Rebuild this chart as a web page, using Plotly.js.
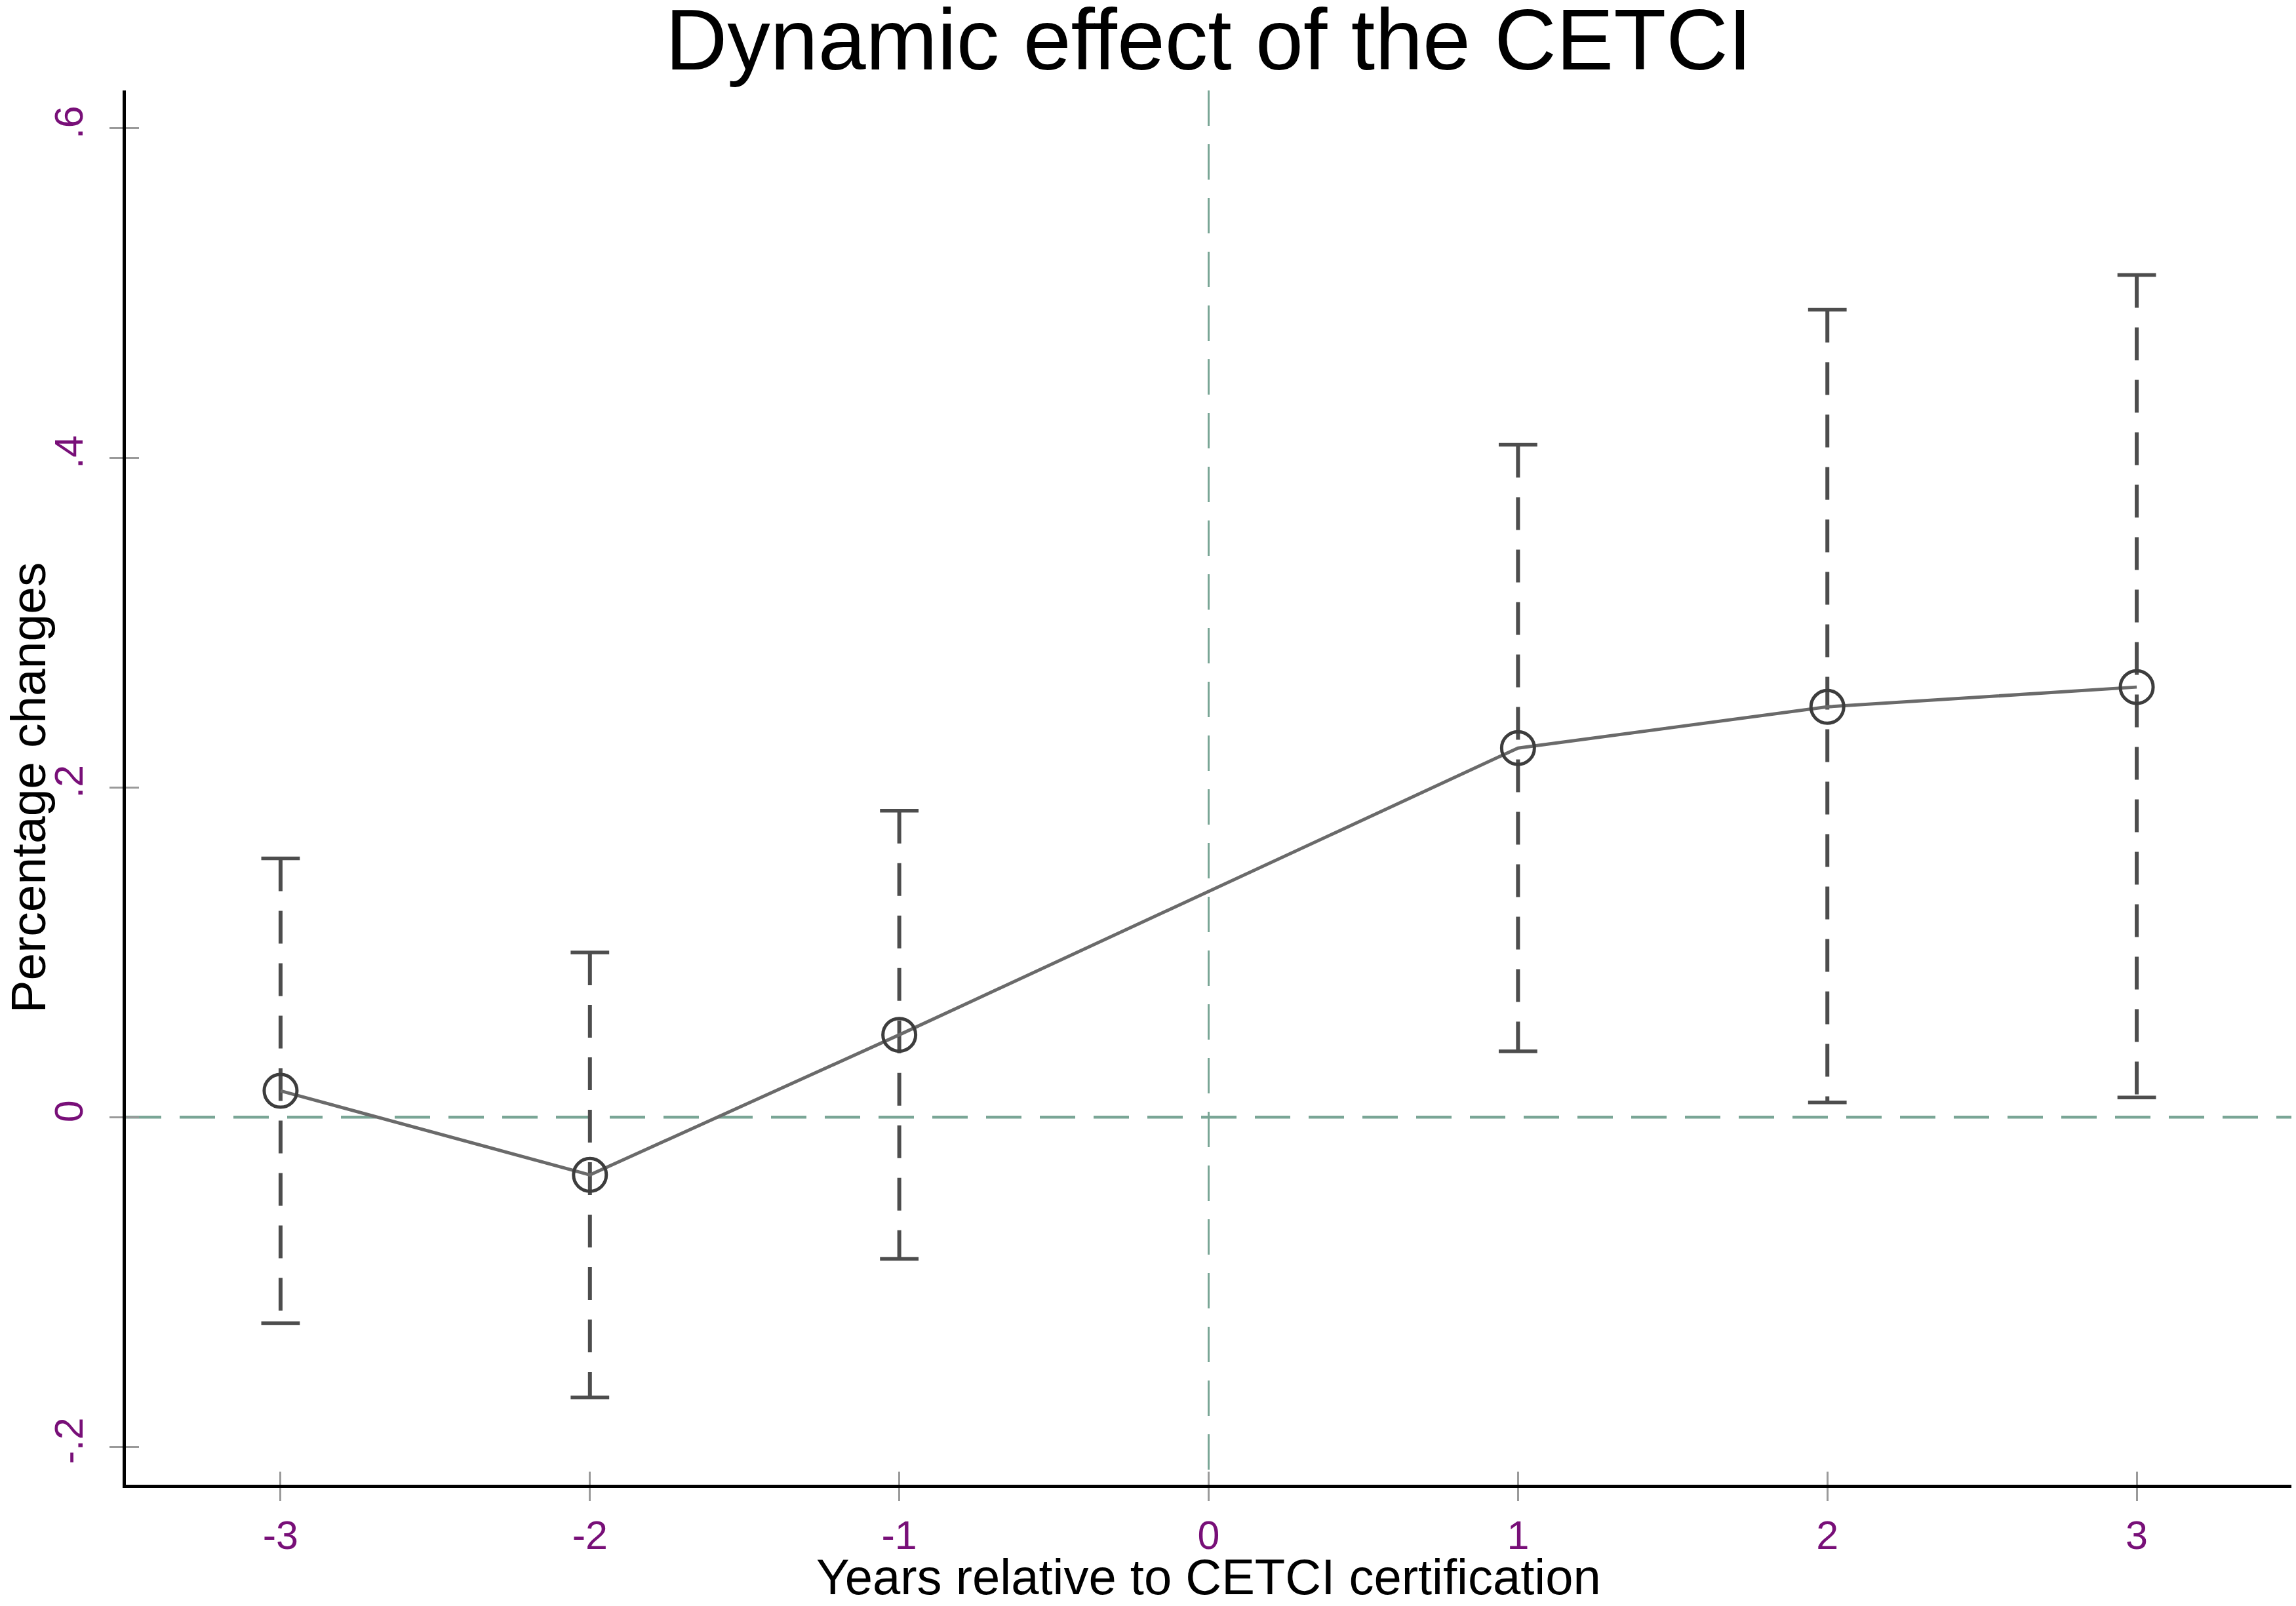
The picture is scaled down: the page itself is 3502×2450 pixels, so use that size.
<!DOCTYPE html>
<html>
<head>
<meta charset="utf-8">
<script src="https://cdn.plot.ly/plotly-3.0.1.min.js"></script>
<style>html,body{margin:0;padding:0;background:#fff;}#chart{width:3502px;height:2450px;}</style>
</head>
<body>
<div id="chart"></div>
<script>
// Data
const years = [-3, -2, -1, 1, 2, 3];
const estimates = [0.016, -0.035, 0.050, 0.224, 0.249, 0.261];
const ciLower = [-0.125, -0.170, -0.086, 0.040, 0.009, 0.012];
const ciUpper = [0.157, 0.100, 0.186, 0.408, 0.490, 0.511];
const xTickVals = [-3, -2, -1, 0, 1, 2, 3];
const xTickText = ['-3', '-2', '-1', '0', '1', '2', '3'];
const yTickVals = [-0.2, 0, 0.2, 0.4, 0.6];
const yTickText = ['-.2', '0', '.2', '.4', '.6'];
const titleText = 'Dynamic effect of the CETCI';
const xTitleText = 'Years relative to CETCI certification';
const yTitleText = 'Percentage changes';

const FONT = 'Liberation Sans, Arial, Helvetica, sans-serif';
const PURPLE = '#780f78';
const REF = '#7aa696';
const BAR = '#4d4d4d';

// Build CI segments (separated by nulls), drawn from top to bottom
const ciX = [], ciY = [];
years.forEach((x, i) => { ciX.push(x, x, null); ciY.push(ciUpper[i], ciLower[i], null); });
const capX = years.concat(years);
const capY = ciLower.concat(ciUpper);

const xRange = [-3.5, 3.5];
const yRange = [-0.223, 0.623];

const traces = [
  { // horizontal reference at 0
    x: xRange, y: [0, 0], mode: 'lines', hoverinfo: 'skip',
    line: { color: REF, width: 4.5, dash: '54px,28px' }, showlegend: false
  },
  { // vertical reference at 0 (drawn top to bottom)
    x: [0, 0], y: [yRange[1], yRange[0]], mode: 'lines', hoverinfo: 'skip',
    line: { color: REF, width: 3, dash: '54px,28px' }, showlegend: false
  },
  { // CI dashed lines
    x: ciX, y: ciY, mode: 'lines', connectgaps: false,
    line: { color: BAR, width: 6, dash: '50px,30px' }, showlegend: false
  },
  { // CI caps
    x: capX, y: capY, mode: 'markers',
    marker: { symbol: 'line-ew', size: 42, line: { color: BAR, width: 5.5 } }, showlegend: false
  },
  { // point estimates line
    x: years, y: estimates, mode: 'lines',
    line: { color: '#6a6a6a', width: 5 }, showlegend: false
  },
  { // point estimate markers
    x: years, y: estimates, mode: 'markers',
    marker: { symbol: 'circle-open', size: 50, color: '#3d3d3d', line: { color: '#3d3d3d', width: 5 } },
    showlegend: false
  }
];

const layout = {
  width: 3502, height: 2450,
  paper_bgcolor: '#ffffff', plot_bgcolor: '#ffffff',
  margin: { l: 192, r: 7, t: 138, b: 185 },
  font: { family: FONT, color: '#000' },
  showlegend: false,
  title: {
    text: titleText,
    font: { family: FONT, size: 131, color: '#000' },
    x: 0.5, xref: 'paper', xanchor: 'center',
    y: 0.9755, yref: 'container', yanchor: 'middle'
  },
  xaxis: {
    range: xRange, tickvals: xTickVals, ticktext: xTickText,
    showgrid: false, zeroline: false,
    showline: true, linecolor: '#000', linewidth: 5,
    ticks: 'outside', ticklen: 20, tickwidth: 3, tickcolor: '#9a9a9a',
    tickfont: { family: FONT, size: 61, color: PURPLE }
  },
  xaxis2: {
    range: xRange, tickvals: xTickVals, overlaying: 'x', anchor: 'y', side: 'bottom',
    showgrid: false, zeroline: false, showline: false, showticklabels: false,
    ticks: 'inside', ticklen: 20, tickwidth: 3, tickcolor: '#9a9a9a'
  },
  yaxis: {
    range: yRange, tickvals: yTickVals, ticktext: yTickText,
    showgrid: false, zeroline: false,
    showline: true, linecolor: '#000', linewidth: 5,
    ticks: 'outside', ticklen: 20, tickwidth: 3, tickcolor: '#9a9a9a',
    tickangle: -90, ticklabelstandoff: 17,
    tickfont: { family: FONT, size: 61, color: PURPLE }
  },
  yaxis2: {
    range: yRange, tickvals: yTickVals, overlaying: 'y', anchor: 'x', side: 'left',
    showgrid: false, zeroline: false, showline: false, showticklabels: false,
    ticks: 'inside', ticklen: 20, tickwidth: 3, tickcolor: '#9a9a9a'
  },
  annotations: [
    { // x-axis title
      text: xTitleText, showarrow: false,
      xref: 'paper', x: 0.5, xanchor: 'center',
      yref: 'paper', y: -0.0868, yanchor: 'bottom',
      font: { family: FONT, size: 76, color: '#000' }
    },
    { // y-axis title
      text: yTitleText, showarrow: false, textangle: -90,
      xref: 'paper', x: -0.0454, xanchor: 'center',
      yref: 'paper', y: 0.5, yanchor: 'middle',
      font: { family: FONT, size: 75, color: '#000' }
    }
  ]
};

// invisible trace to activate the secondary (inside-tick) axes
traces.push({ x: [0], y: [0], xaxis: 'x2', yaxis: 'y2', mode: 'markers', marker: { opacity: 0 }, hoverinfo: 'skip', showlegend: false });

Plotly.newPlot('chart', traces, layout, { staticPlot: true });
</script>
</body>
</html>
